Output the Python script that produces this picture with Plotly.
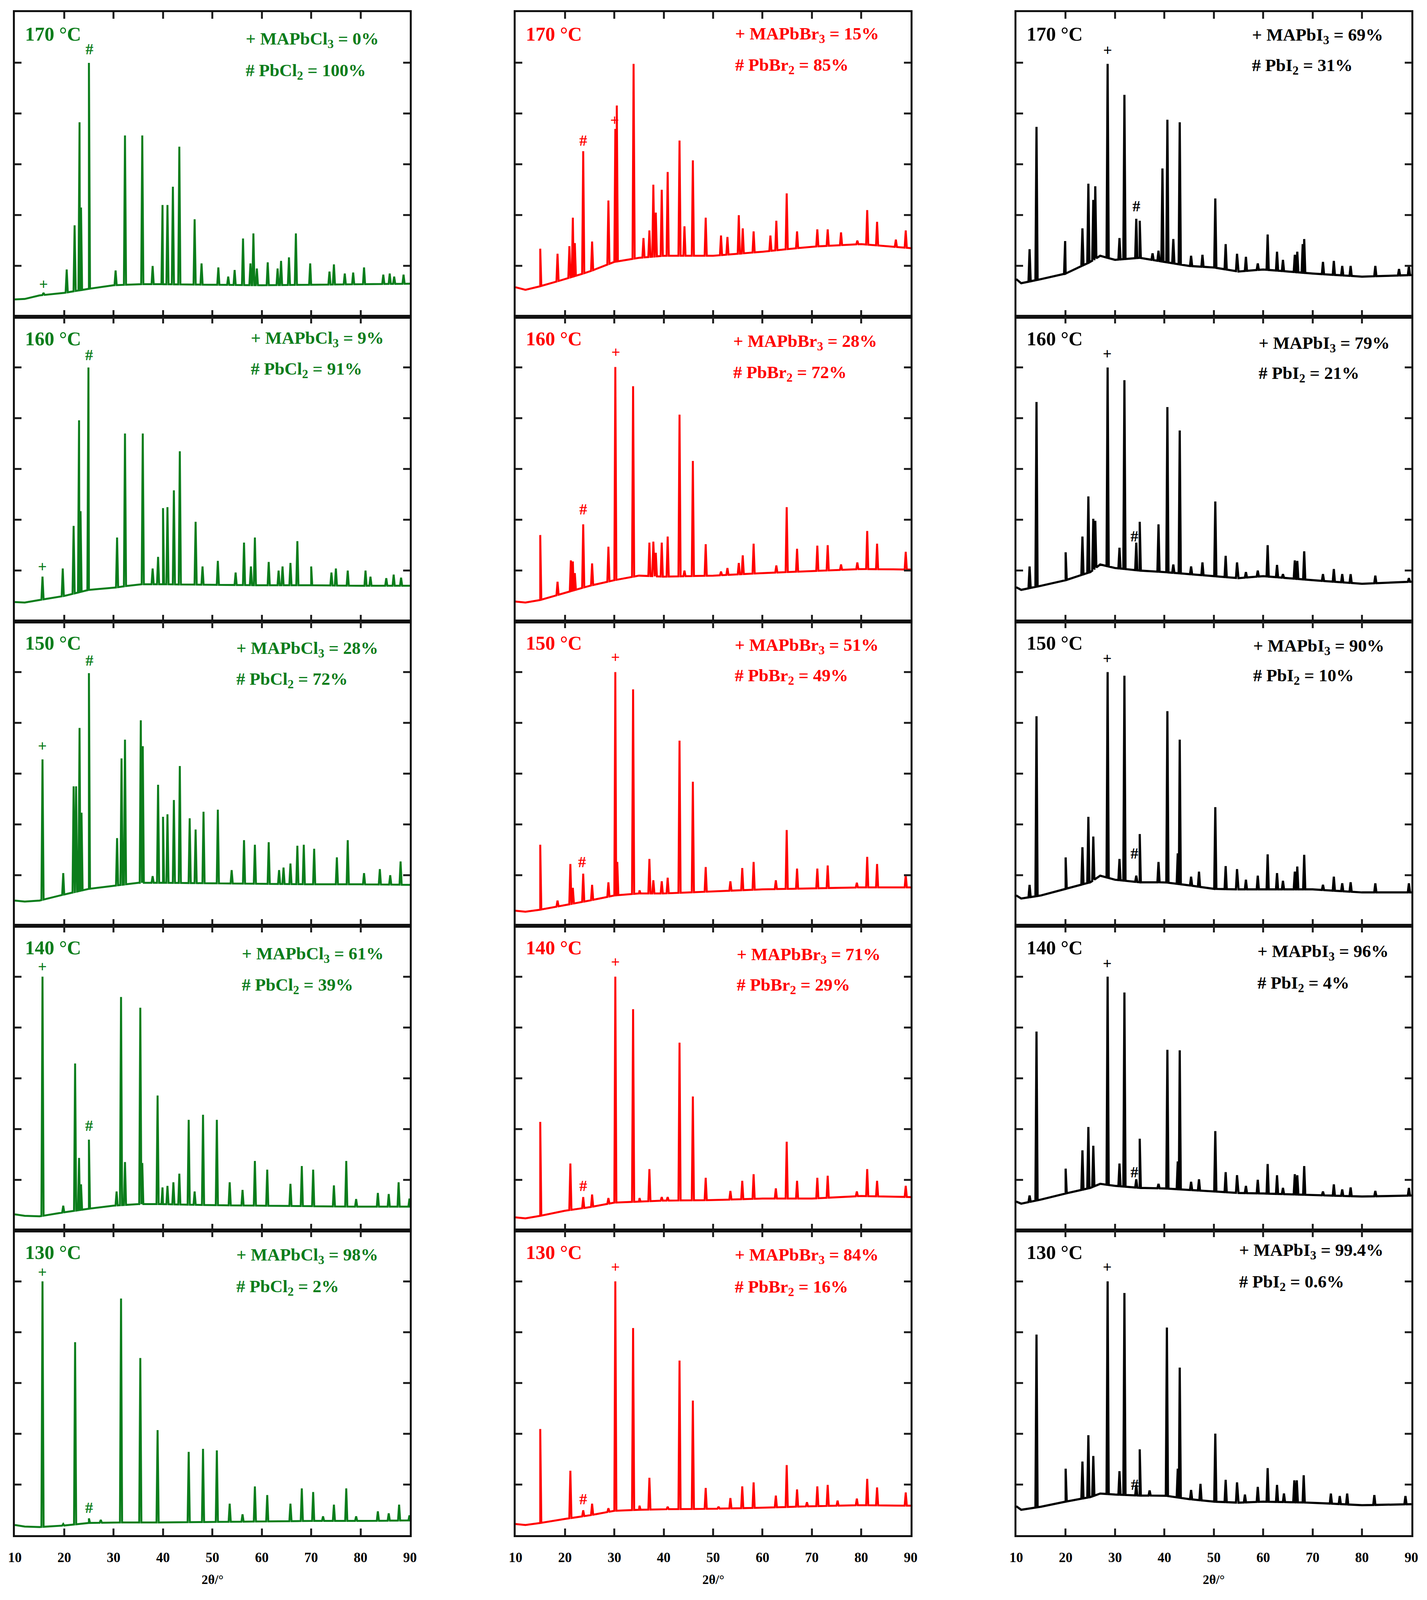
import numpy as np
import plotly.graph_objects as go
from plotly.subplots import make_subplots

# 2theta axis
theta_ticks = [10, 20, 30, 40, 50, 60, 70, 80, 90]
temps = ["170 °C", "160 °C", "150 °C", "140 °C", "130 °C"]

# ---------------- MAPbCl3 column (green) ----------------
cl_bg_x = [10, 12, 15, 20, 25, 30, 35, 40, 50, 60, 70, 80, 90]
cl170_bg = [0.34, 0.35, 0.42, 0.47, 0.55, 0.62, 0.64, 0.64, 0.63, 0.62, 0.63, 0.64, 0.65]
cl160_bg = [0.38, 0.37, 0.42, 0.50, 0.62, 0.66, 0.73, 0.73, 0.72, 0.71, 0.71, 0.70, 0.70]
cl150_bg = [0.50, 0.48, 0.50, 0.62, 0.73, 0.79, 0.85, 0.85, 0.84, 0.83, 0.82, 0.82, 0.81]
cl140_bg = [0.32, 0.29, 0.28, 0.36, 0.43, 0.49, 0.52, 0.52, 0.50, 0.49, 0.48, 0.47, 0.47]
cl130_bg = [0.20, 0.17, 0.16, 0.19, 0.24, 0.25, 0.25, 0.25, 0.26, 0.27, 0.28, 0.28, 0.29]

cl170_pk_x = [15.8, 20.5, 22.1, 23.1, 23.4, 25.0, 30.4, 32.3, 35.8, 37.9, 39.9, 40.9, 42.0, 43.3,
              46.4, 47.8, 51.2, 53.2, 54.5, 56.2, 57.7, 58.3, 59.0, 61.2, 63.2, 63.9, 65.5, 66.9,
              69.8, 73.7, 74.6, 76.8, 78.5, 80.7, 84.6, 85.9, 86.8, 88.7]
cl170_pk_y = [0.47, 0.93, 1.80, 3.83, 2.15, 5.00, 0.91, 3.57, 3.57, 1.00, 2.20, 2.20, 2.56, 3.35,
              1.92, 1.05, 0.97, 0.79, 0.92, 1.54, 1.05, 1.64, 0.95, 1.07, 0.95, 1.10, 1.17, 1.64,
              1.05, 0.89, 1.03, 0.85, 0.87, 0.97, 0.83, 0.85, 0.79, 0.83]

cl160_pk_x = [15.6, 19.7, 21.9, 23.0, 23.3, 24.9, 30.7, 32.3, 35.9, 37.9, 39.0, 40.0, 40.9, 42.2,
              43.4, 46.6, 48.0, 51.1, 54.7, 56.4, 57.8, 58.6, 61.4, 63.4, 64.2, 65.8, 67.2, 70.0,
              74.1, 75.0, 77.4, 81.0, 82.0, 85.2, 86.7, 88.2]
cl160_pk_y = [0.88, 1.04, 1.88, 3.96, 2.17, 5.00, 1.65, 3.70, 3.70, 1.04, 1.27, 2.23, 2.25, 2.58,
              3.35, 1.96, 1.08, 1.19, 0.96, 1.55, 1.08, 1.65, 1.17, 1.00, 1.08, 1.15, 1.58, 1.08,
              0.96, 1.04, 1.00, 1.00, 0.88, 0.85, 0.92, 0.86]

cl150_pk_x = [15.6, 19.8, 21.9, 22.4, 23.1, 23.5, 25.0, 30.7, 31.6, 32.3, 35.5, 35.9, 37.9, 39.0,
              40.0, 40.9, 42.2, 43.4, 45.4, 46.6, 48.2, 51.1, 53.9, 56.4, 58.6, 61.4, 63.5, 64.4,
              65.8, 67.2, 68.5, 70.6, 75.2, 77.4, 80.7, 83.9, 86.0, 88.1]
cl150_pk_y = [3.28, 1.04, 2.75, 2.75, 3.90, 2.23, 4.98, 1.73, 3.30, 3.67, 4.05, 3.54, 0.98, 2.78,
              2.15, 2.20, 2.48, 3.15, 2.12, 1.90, 2.25, 2.29, 1.10, 1.69, 1.60, 1.65, 1.10, 1.15,
              1.23, 1.58, 1.60, 1.52, 1.35, 1.69, 1.04, 1.12, 1.00, 1.27]

cl140_pk_x = [15.6, 19.8, 22.2, 23.0, 23.4, 25.0, 30.6, 31.5, 32.3, 35.4, 35.8, 38.9, 39.9, 40.9,
              42.1, 43.3, 45.2, 46.4, 48.1, 50.9, 53.5, 56.1, 58.6, 61.1, 65.8, 68.1, 70.4, 74.6,
              77.1, 79.1, 83.5, 85.7, 87.7, 89.9]
cl140_pk_y = [5.00, 0.49, 3.29, 1.43, 0.91, 1.79, 0.77, 4.60, 1.35, 4.39, 1.33, 2.66, 0.85, 0.88,
              0.95, 1.12, 2.18, 0.77, 2.28, 2.18, 0.95, 0.80, 1.37, 1.20, 0.92, 1.27, 1.20, 0.89,
              1.37, 0.62, 0.74, 0.72, 0.95, 0.63]

cl130_pk_x = [15.6, 19.8, 22.2, 25.0, 27.4, 31.5, 35.4, 38.9, 45.2, 48.1, 50.9, 53.5, 56.1, 58.6,
              61.1, 65.8, 68.1, 70.4, 72.4, 74.6, 77.1, 79.1, 83.5, 85.7, 87.8, 89.9]
cl130_pk_y = [5.00, 0.22, 3.80, 0.33, 0.30, 4.66, 3.49, 2.07, 1.64, 1.70, 1.67, 0.62, 0.41, 0.96,
              0.79, 0.62, 0.92, 0.85, 0.37, 0.60, 0.92, 0.37, 0.47, 0.43, 0.60, 0.39]

cl_plus = [(15.8, 0.64), (15.6, 1.08), (15.6, 3.55), (15.6, 5.20), (15.6, 5.18)]
cl_hash = [(25.1, 5.27), (25.0, 5.25), (25.1, 5.23), (25.0, 2.07), (25.0, 0.54)]
cl_pct_a = ["0%", "9%", "28%", "61%", "98%"]
cl_pct_b = ["100%", "91%", "72%", "39%", "2%"]

# ---------------- MAPbBr3 column (red) ----------------
br_bg_x = [10, 12, 15, 20, 25, 30, 35, 40, 50, 60, 70, 80, 90]
br170_bg = [0.58, 0.53, 0.60, 0.74, 0.89, 1.08, 1.16, 1.20, 1.20, 1.28, 1.38, 1.43, 1.35]
br160_bg = [0.39, 0.37, 0.42, 0.56, 0.70, 0.81, 0.90, 0.88, 0.90, 0.95, 0.99, 1.03, 1.02]
br150_bg = [0.30, 0.28, 0.32, 0.41, 0.50, 0.60, 0.64, 0.64, 0.68, 0.72, 0.74, 0.76, 0.76]
br140_bg = [0.26, 0.24, 0.29, 0.39, 0.46, 0.55, 0.57, 0.59, 0.60, 0.63, 0.63, 0.68, 0.66]
br130_bg = [0.22, 0.20, 0.24, 0.32, 0.39, 0.48, 0.50, 0.51, 0.52, 0.54, 0.57, 0.59, 0.58]

br170_pk_x = [15.0, 18.5, 20.9, 21.6, 22.0, 23.7, 25.5, 28.8, 30.2, 30.5, 33.9, 35.9, 37.1, 37.9,
              38.4, 39.6, 40.8, 43.2, 44.2, 45.9, 48.5, 51.6, 52.9, 55.2, 56.0, 58.2, 61.6, 62.8,
              64.9, 67.0, 71.1, 73.2, 75.9, 79.2, 81.2, 83.2, 87.0, 89.0]
br170_pk_y = [1.34, 1.24, 1.39, 1.95, 1.45, 3.26, 1.48, 2.29, 3.70, 4.16, 4.98, 1.55, 1.70, 2.60,
              2.05, 2.50, 2.85, 3.47, 1.78, 3.08, 1.95, 1.60, 1.57, 2.00, 1.74, 1.68, 1.60, 1.89,
              2.43, 1.68, 1.72, 1.72, 1.66, 1.50, 2.10, 1.87, 1.52, 1.70]

br160_pk_x = [15.0, 18.5, 21.2, 21.6, 22.0, 23.7, 25.5, 28.8, 30.2, 33.8, 37.1, 37.9, 38.4, 39.6,
              40.8, 43.2, 44.2, 45.9, 48.5, 51.6, 52.9, 55.2, 56.0, 58.2, 62.8, 64.9, 67.0, 71.1,
              73.2, 75.9, 79.2, 81.2, 83.2, 89.0]
br160_pk_y = [1.70, 0.78, 1.20, 1.18, 0.95, 1.91, 1.14, 1.47, 5.01, 4.63, 1.55, 1.57, 1.35, 1.55,
              1.67, 4.07, 1.00, 3.16, 1.52, 0.98, 1.05, 1.15, 1.30, 1.53, 1.10, 2.25, 1.43, 1.49,
              1.50, 1.12, 1.16, 1.78, 1.53, 1.37]

br150_pk_x = [15.0, 18.5, 21.1, 21.6, 23.7, 25.5, 28.8, 30.2, 30.6, 33.8, 35.1, 37.1, 37.9, 39.6,
              40.8, 43.2, 45.9, 48.5, 53.5, 55.9, 58.2, 62.7, 64.9, 67.0, 71.1, 73.2, 79.1, 81.2,
              83.2, 89.0]
br150_pk_y = [1.60, 0.50, 1.22, 0.75, 1.03, 0.81, 0.86, 5.00, 1.26, 4.66, 0.70, 1.32, 0.90, 0.88,
              0.95, 3.65, 2.84, 1.16, 0.88, 1.14, 1.26, 0.90, 1.89, 1.13, 1.13, 1.19, 0.85, 1.36,
              1.22, 1.01]

br140_pk_x = [15.0, 21.1, 23.7, 25.5, 28.8, 30.2, 33.8, 35.1, 37.1, 39.6, 40.8, 43.2, 45.9, 48.5,
              53.5, 55.9, 58.2, 62.7, 64.9, 67.0, 71.1, 73.2, 79.1, 81.2, 83.2, 89.0]
br140_pk_y = [2.14, 1.32, 0.66, 0.71, 0.64, 5.00, 4.36, 0.64, 1.21, 0.66, 0.66, 3.70, 2.64, 1.04,
              0.78, 0.98, 1.11, 0.83, 1.75, 0.98, 1.04, 1.08, 0.77, 1.21, 0.98, 0.88]

br130_pk_x = [15.0, 21.1, 23.7, 25.5, 28.8, 30.2, 33.8, 35.1, 37.1, 40.8, 43.2, 45.9, 48.5, 51.1,
              53.5, 55.9, 58.2, 62.7, 64.9, 67.0, 69.0, 71.1, 73.2, 75.2, 79.1, 81.2, 83.2, 89.0]
br130_pk_y = [2.09, 1.27, 0.49, 0.62, 0.53, 5.00, 4.08, 0.58, 1.13, 0.56, 3.44, 2.65, 0.93, 0.56,
              0.73, 0.96, 1.04, 0.78, 1.38, 0.90, 0.65, 0.96, 0.99, 0.68, 0.72, 1.11, 0.94, 0.84]

br_plus = [(30.1, 3.87), (30.3, 5.30), (30.2, 5.29), (30.2, 5.29), (30.2, 5.28)]
br_hash = [(23.7, 3.47), (23.7, 2.21), (23.5, 1.26), (23.7, 0.88), (23.7, 0.71)]
br_pct_a = ["15%", "28%", "51%", "71%", "84%"]
br_pct_b = ["85%", "72%", "49%", "29%", "16%"]

# ---------------- MAPbI3 column (black) ----------------
i_bg_x = [10, 11, 15, 20, 25, 27, 30, 35, 40, 45, 50, 55, 60, 70, 80, 90]
i170_bg = [0.74, 0.66, 0.74, 0.85, 1.08, 1.20, 1.12, 1.16, 1.08, 1.00, 0.97, 0.89, 0.93, 0.85, 0.79, 0.82]
i160_bg = [0.67, 0.62, 0.70, 0.81, 0.97, 1.12, 1.05, 1.00, 0.97, 0.93, 0.89, 0.85, 0.89, 0.81, 0.74, 0.78]
i150_bg = [0.60, 0.54, 0.60, 0.73, 0.86, 0.99, 0.91, 0.86, 0.86, 0.80, 0.73, 0.72, 0.72, 0.72, 0.66, 0.66]
i140_bg = [0.57, 0.53, 0.61, 0.73, 0.84, 0.92, 0.88, 0.84, 0.83, 0.80, 0.77, 0.74, 0.73, 0.70, 0.67, 0.69]
i130_bg = [0.57, 0.50, 0.56, 0.66, 0.75, 0.82, 0.80, 0.78, 0.78, 0.71, 0.66, 0.64, 0.66, 0.64, 0.59, 0.61]

i170_pk_x = [12.7, 14.1, 19.9, 23.4, 24.6, 25.6, 26.0, 28.5, 30.9, 31.9, 34.3, 35.0, 37.6, 38.8,
             39.6, 40.6, 41.8, 43.1, 45.4, 47.7, 50.3, 52.4, 54.7, 56.5, 58.9, 60.9, 62.8, 64.0,
             66.4, 66.9, 68.0, 68.3, 72.1, 74.3, 76.0, 77.7, 82.7, 87.5, 89.5]
i170_pk_y = [1.33, 3.74, 1.49, 1.74, 2.62, 2.30, 2.57, 4.98, 1.55, 4.37, 1.93, 1.89, 1.25, 1.30,
             2.92, 3.88, 1.53, 3.83, 1.20, 1.22, 2.33, 1.43, 1.24, 1.18, 1.05, 1.62, 1.28, 1.12,
             1.22, 1.28, 1.43, 1.53, 1.08, 1.10, 1.00, 1.00, 1.00, 0.94, 1.00]

i160_pk_x = [12.7, 14.1, 20.0, 23.4, 24.6, 25.6, 26.0, 28.5, 30.9, 31.9, 34.3, 35.0, 38.8, 40.6,
             41.8, 43.1, 45.4, 47.7, 50.3, 52.4, 54.7, 56.5, 58.9, 60.9, 62.8, 64.0, 66.4, 66.9,
             68.3, 72.1, 74.3, 76.0, 77.7, 82.7, 89.5]
i160_pk_y = [1.08, 4.32, 1.36, 1.67, 2.46, 2.02, 1.98, 5.00, 1.45, 4.75, 1.55, 1.96, 1.91, 4.22,
             1.12, 3.76, 1.08, 1.16, 2.36, 1.29, 1.16, 0.97, 1.00, 1.50, 1.11, 0.93, 1.20, 1.19,
             1.38, 0.93, 1.03, 0.93, 0.93, 0.90, 0.85]

i150_pk_x = [12.7, 14.1, 20.0, 23.4, 24.6, 25.6, 28.5, 30.9, 31.9, 34.3, 35.0, 38.8, 40.6, 42.7,
             43.1, 45.4, 47.0, 50.3, 52.4, 54.7, 56.5, 58.9, 60.9, 62.8, 64.0, 66.4, 66.9, 68.3,
             72.1, 74.3, 76.0, 77.7, 82.7, 89.5]
i150_pk_y = [0.81, 4.13, 1.35, 1.55, 2.15, 1.76, 5.00, 1.32, 4.93, 0.99, 1.81, 1.26, 4.23, 1.43,
             3.67, 0.97, 1.07, 2.34, 1.18, 1.12, 0.91, 0.99, 1.41, 1.04, 0.89, 1.07, 1.17, 1.40,
             0.81, 0.97, 0.84, 0.86, 0.84, 0.84]

i140_pk_x = [12.7, 14.1, 20.0, 23.4, 24.6, 25.6, 28.5, 30.9, 31.9, 34.3, 35.0, 38.8, 40.6, 42.7,
             43.1, 45.4, 47.0, 50.3, 52.4, 54.7, 56.5, 58.9, 60.9, 62.8, 64.0, 66.4, 66.9, 68.3,
             72.1, 74.3, 76.0, 77.7, 82.7, 89.5]
i140_pk_y = [0.69, 3.92, 1.22, 1.58, 2.04, 1.67, 5.00, 1.32, 4.69, 1.01, 1.81, 0.92, 3.56, 1.36,
             3.55, 0.96, 1.01, 1.96, 1.15, 1.09, 0.88, 1.00, 1.31, 1.09, 0.84, 1.11, 1.09, 1.27,
             0.77, 0.91, 0.81, 0.85, 0.78, 0.84]

i130_pk_x = [14.1, 20.0, 23.4, 24.6, 25.6, 28.5, 30.9, 31.9, 34.3, 35.0, 37.0, 40.5, 42.7, 43.1,
             45.4, 47.3, 50.3, 52.4, 54.7, 56.3, 58.9, 60.9, 62.8, 64.2, 66.3, 66.8, 68.2, 73.7,
             75.5, 77.0, 82.5, 88.8]
i130_pk_y = [3.95, 1.31, 1.45, 1.97, 1.56, 5.00, 1.26, 4.77, 0.99, 1.69, 0.88, 4.09, 1.31, 3.30,
             0.89, 1.01, 2.00, 1.09, 1.04, 0.80, 0.95, 1.32, 0.99, 0.82, 1.08, 1.08, 1.18, 0.82,
             0.77, 0.82, 0.79, 0.77]

i_plus = [(28.5, 5.25), (28.4, 5.27), (28.4, 5.27), (28.4, 5.26), (28.4, 5.28)]
i_hash = [(34.3, 2.18), (33.9, 1.68), (33.9, 1.43), (33.9, 1.15), (34.0, 1.00)]
i_pct_a = ["69%", "79%", "90%", "96%", "99.4%"]
i_pct_b = ["31%", "21%", "10%", "4%", "0.6%"]

# per-panel label anchor (x start of right label, y of line 1, y of line 2)
cl_lab = [(56.6, 5.45, 4.83), (57.6, 5.56, 4.95), (54.7, 5.45, 4.84), (55.8, 5.43, 4.82), (54.7, 5.50, 4.88)]
br_lab = [(54.3, 5.55, 4.94), (53.9, 5.50, 4.88), (54.2, 5.51, 4.91), (54.6, 5.42, 4.82), (54.2, 5.50, 4.87)]
i_lab = [(57.6, 5.53, 4.93), (58.9, 5.46, 4.87), (57.8, 5.50, 4.91), (58.7, 5.48, 4.86), (55.0, 5.59, 4.97)]

GREEN = "#0b7d1b"
RED = "#ff0000"
BLACK = "#000000"
SERIF = "Liberation Serif"

columns = [
    dict(color=GREEN, bg_x=cl_bg_x, width=5,
         bg=[cl170_bg, cl160_bg, cl150_bg, cl140_bg, cl130_bg],
         px=[cl170_pk_x, cl160_pk_x, cl150_pk_x, cl140_pk_x, cl130_pk_x],
         py=[cl170_pk_y, cl160_pk_y, cl150_pk_y, cl140_pk_y, cl130_pk_y],
         plus=cl_plus, hash=cl_hash, lab=cl_lab,
         a="MAPbCl", b="PbCl", pa=cl_pct_a, pb=cl_pct_b),
    dict(color=RED, bg_x=br_bg_x, width=5,
         bg=[br170_bg, br160_bg, br150_bg, br140_bg, br130_bg],
         px=[br170_pk_x, br160_pk_x, br150_pk_x, br140_pk_x, br130_pk_x],
         py=[br170_pk_y, br160_pk_y, br150_pk_y, br140_pk_y, br130_pk_y],
         plus=br_plus, hash=br_hash, lab=br_lab,
         a="MAPbBr", b="PbBr", pa=br_pct_a, pb=br_pct_b),
    dict(color=BLACK, bg_x=i_bg_x, width=5.5,
         bg=[i170_bg, i160_bg, i150_bg, i140_bg, i130_bg],
         px=[i170_pk_x, i160_pk_x, i150_pk_x, i140_pk_x, i130_pk_x],
         py=[i170_pk_y, i160_pk_y, i150_pk_y, i140_pk_y, i130_pk_y],
         plus=i_plus, hash=i_hash, lab=i_lab,
         a="MAPbI", b="PbI", pa=i_pct_a, pb=i_pct_b),
]


def pattern(bg_x, bg_y, pk_x, pk_y, half=0.22):
    # baseline knots plus a narrow spike at every peak
    xs = list(bg_x)
    ys = list(bg_y)
    for x, top in zip(pk_x, pk_y):
        for dx in (-half, half):
            xs.append(x + dx)
            ys.append(float(np.interp(x + dx, bg_x, bg_y)))
        xs.append(x)
        ys.append(top)
    order = np.argsort(xs, kind="stable")
    return np.array(xs)[order], np.array(ys)[order]


# figure sized so the whole chart stays inside the visible page
W, H = 3637, 4064
ml, mr, mt, mb = 21.5, 32, 23, 142
fig = make_subplots(rows=5, cols=3, horizontal_spacing=0.0756, vertical_spacing=0)

for c, col in enumerate(columns, start=1):
    for r in range(1, 6):
        k = r - 1
        x, y = pattern(col["bg_x"], col["bg"][k], col["px"][k], col["py"][k])
        fig.add_trace(go.Scatter(x=x, y=y, mode="lines", showlegend=False,
                                 line=dict(color=col["color"], width=col["width"])),
                      row=r, col=c)
        fnt = dict(family=SERIF, color=col["color"])
        fig.add_annotation(row=r, col=c, x=11.9, y=5.57, text="<b>%s</b>" % temps[k],
                           showarrow=False, xanchor="left", yanchor="middle",
                           font=dict(size=50, **fnt))
        lx, ly1, ly2 = col["lab"][k]
        fig.add_annotation(row=r, col=c, x=lx, y=ly1,
                           text="<b>+ %s<sub>3</sub> = %s</b>" % (col["a"], col["pa"][k]),
                           showarrow=False, xanchor="left", yanchor="middle",
                           font=dict(size=45, **fnt))
        fig.add_annotation(row=r, col=c, x=lx, y=ly2,
                           text="<b># %s<sub>2</sub> = %s</b>" % (col["b"], col["pb"][k]),
                           showarrow=False, xanchor="left", yanchor="middle",
                           font=dict(size=45, **fnt))
        for sym, pos in (("+", col["plus"][k]), ("#", col["hash"][k])):
            fig.add_annotation(row=r, col=c, x=pos[0], y=pos[1], text="<b>%s</b>" % sym,
                               showarrow=False, xanchor="center", yanchor="middle",
                               font=dict(size=40, **fnt))

fig.update_xaxes(range=[10, 90], tickvals=theta_ticks, ticks="inside", ticklen=17, tickwidth=5,
                 tickcolor="#222222", showline=True, linewidth=5, linecolor="#111111", mirror="ticks",
                 showgrid=False, zeroline=False, showticklabels=False)
fig.update_xaxes(row=5, showticklabels=True, ticklabelstandoff=22,
                 tickfont=dict(family=SERIF, size=35, color="black", weight="bold"))
fig.update_yaxes(range=[0, 6], tickvals=[1, 2, 3, 4, 5], ticks="inside", ticklen=17, tickwidth=5,
                 tickcolor="#222222", showline=True, linewidth=5, linecolor="#111111", mirror="ticks",
                 showgrid=False, zeroline=False, showticklabels=False)

ph = H - mt - mb
for c in range(3):
    dom = fig.layout["xaxis%s" % ("" if c == 0 else c + 1)].domain
    fig.add_annotation(xref="paper", yref="paper", x=(dom[0] + dom[1]) / 2, y=-(4036 - (H - mb)) / ph,
                       text="<b>2θ/°</b>", showarrow=False, xanchor="center", yanchor="middle",
                       font=dict(family=SERIF, size=33, color="black"))

fig.update_layout(width=W, height=H, margin=dict(l=ml, r=mr, t=mt, b=mb),
                  paper_bgcolor="white", plot_bgcolor="white")

fig.write_html("out.html")
